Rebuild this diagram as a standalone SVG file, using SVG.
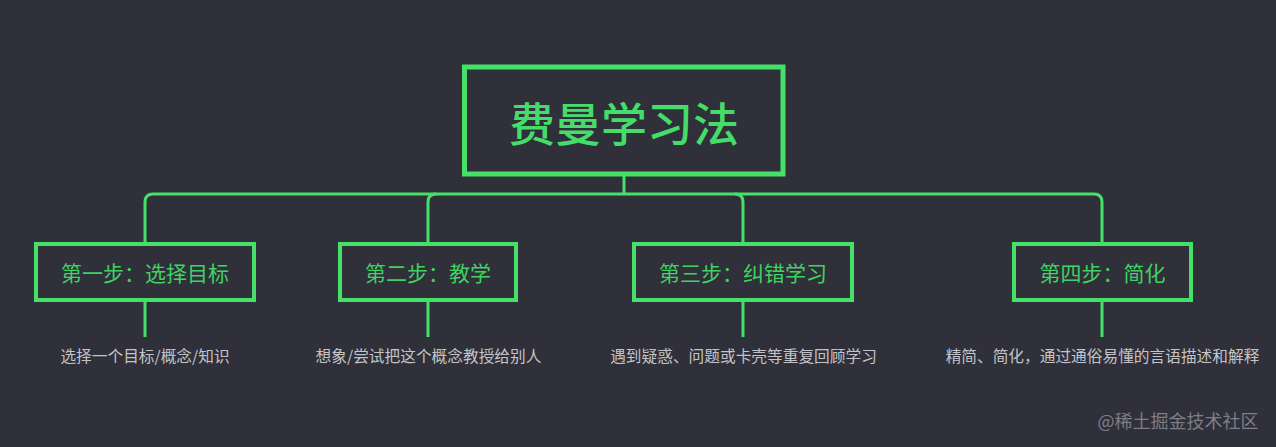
<svg xmlns="http://www.w3.org/2000/svg" width="1276" height="447" viewBox="0 0 1276 447">
<style>
.box{fill:none;stroke:#44e068;}
.main{stroke-width:5;}
.step{stroke-width:4;}
.conn{fill:none;stroke:#44e068;stroke-width:3;}
.title{font-family:"Noto Sans CJK SC",sans-serif;font-size:46px;font-weight:500;fill:#45dd69;text-anchor:middle;dominant-baseline:central;}
.label{font-family:"Noto Sans CJK SC",sans-serif;font-size:21px;fill:#40d263;text-anchor:middle;dominant-baseline:central;}
.desc{font-family:"Noto Sans CJK SC",sans-serif;font-size:15.7px;fill:#c4c4c8;text-anchor:middle;dominant-baseline:central;}
.wm{font-family:"Noto Sans CJK SC",sans-serif;font-size:18px;fill:#7d7e86;text-anchor:middle;dominant-baseline:central;}
</style>
<rect width="1276" height="447" fill="#2f3039"/>
<g id="connectors">
<path class="conn" d="M624,174 V194"/>
<path class="conn" d="M624,194 H153 Q145,194 145,202 V244"/>
<path class="conn" d="M436,194 Q428,194 428,202 V244"/>
<path class="conn" d="M624,194 H1094 Q1102,194 1102,202 V244"/>
<path class="conn" d="M735,194 Q743,194 743,202 V244"/>
<path class="conn" d="M145,300 V337"/>
<path class="conn" d="M428,300 V337"/>
<path class="conn" d="M743,300 V337"/>
<path class="conn" d="M1102,300 V337"/>
</g>
<g id="root">
<rect class="box main" x="464.5" y="67" width="318.5" height="107"/>
<text class="title" x="624" y="121">费曼学习法</text>
</g>
<g id="step1">
<rect class="box step" x="36" y="244" width="218" height="56"/>
<text class="label" x="145" y="272">第一步：选择目标</text>
<text class="desc" x="145" y="355">选择一个目标/概念/知识</text>
</g>
<g id="step2">
<rect class="box step" x="340" y="244" width="176" height="56"/>
<text class="label" x="428" y="272">第二步：教学</text>
<text class="desc" x="428.5" y="355">想象/尝试把这个概念教授给别人</text>
</g>
<g id="step3">
<rect class="box step" x="634" y="244" width="218" height="56"/>
<text class="label" x="743" y="272">第三步：纠错学习</text>
<text class="desc" x="743.5" y="355">遇到疑惑、问题或卡壳等重复回顾学习</text>
</g>
<g id="step4">
<rect class="box step" x="1014" y="244" width="177" height="56"/>
<text class="label" x="1102.5" y="272">第四步：简化</text>
<text class="desc" x="1102.5" y="355">精简、简化，通过通俗易懂的言语描述和解释</text>
</g>
<text class="wm" x="1178" y="420">@稀土掘金技术社区</text>
</svg>
